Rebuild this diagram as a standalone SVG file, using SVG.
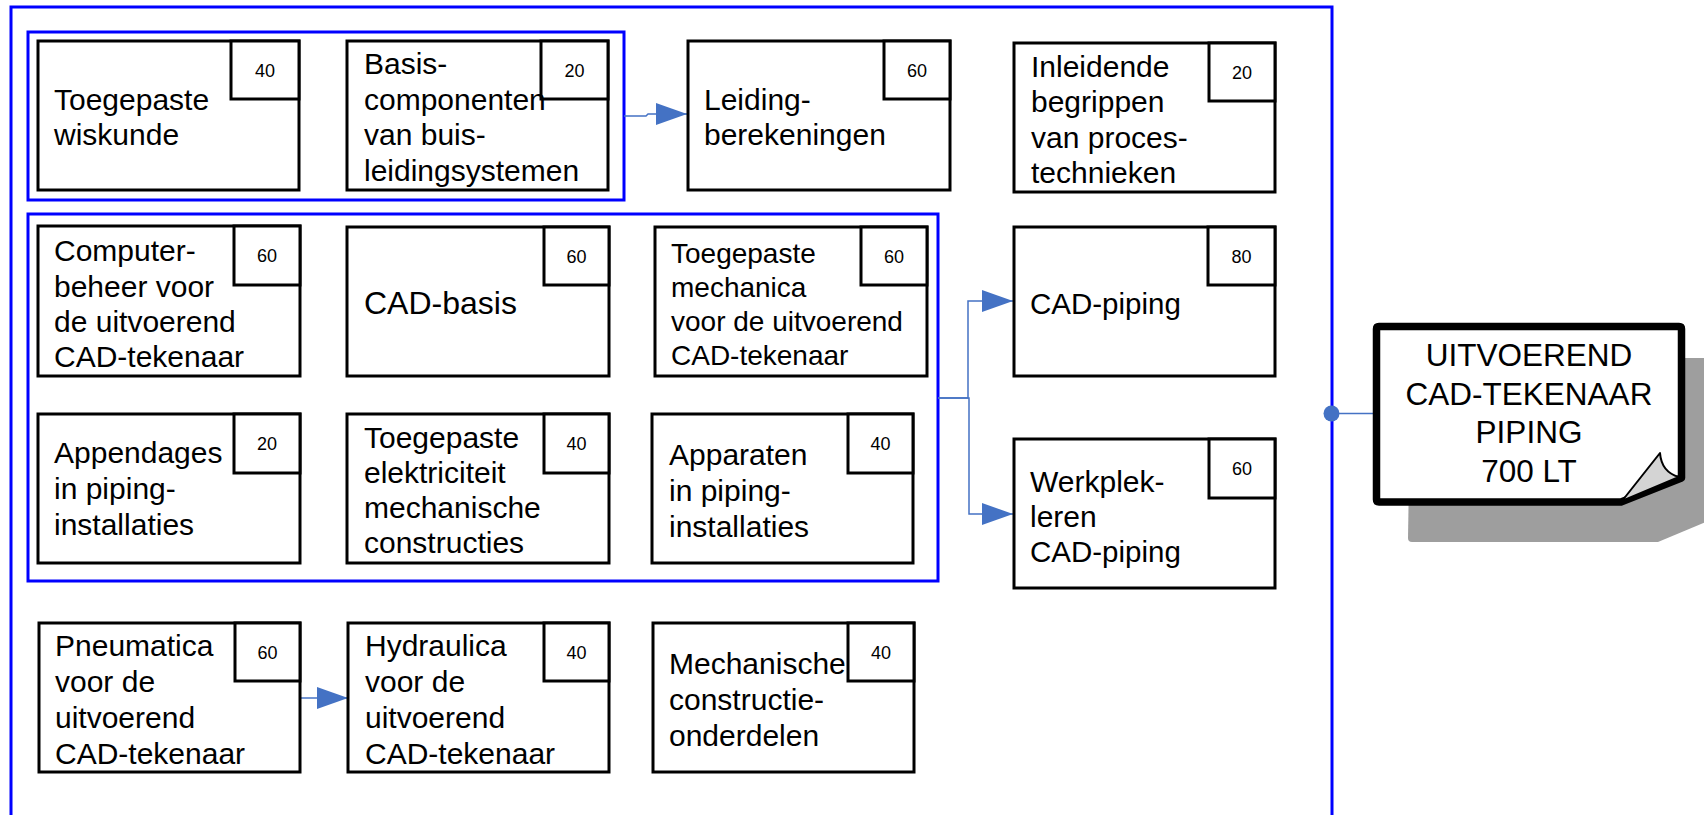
<svg xmlns="http://www.w3.org/2000/svg" width="1704" height="815" viewBox="0 0 1704 815">
<style>
.frame{fill:none;stroke:#0000ff;stroke-width:3}
.box{fill:#ffffff;stroke:#000000;stroke-width:3}
.badge{fill:#ffffff;stroke:#000000;stroke-width:3}
.t{font-family:"Liberation Sans",Arial,sans-serif;font-size:30px;fill:#000000}
.ts{font-family:"Liberation Sans",Arial,sans-serif;font-size:28px;fill:#000000}
.n{font-family:"Liberation Sans",Arial,sans-serif;font-size:18px;fill:#000000;text-anchor:middle}
.doc{font-family:"Liberation Sans",Arial,sans-serif;font-size:31.5px;fill:#000000;text-anchor:middle}
.c{fill:none;stroke:#4472c4;stroke-width:1.5}
</style>
<defs>
<marker id="ah" markerUnits="userSpaceOnUse" markerWidth="32" markerHeight="22" refX="31" refY="11" orient="auto">
<path d="M0,0 L31,11 L0,22 Z" fill="#4472c4"/>
</marker>
</defs>
<rect width="1704" height="815" fill="#ffffff"/>

<g id="frames">
<rect class="frame" x="11" y="7" width="1321" height="830"/>
<rect class="frame" x="28" y="32" width="596" height="168"/>
<rect class="frame" x="28" y="214" width="910" height="367"/>
</g>

<g id="connectors">
<path class="c" d="M624,116 H646 L648,114 H687" marker-end="url(#ah)"/>
<path class="c" d="M938,398 H968 V301 H1013" marker-end="url(#ah)"/>
<path class="c" d="M938,398 H969 V514 H1013" marker-end="url(#ah)"/>
<path class="c" d="M300,698 H348" marker-end="url(#ah)"/>
<path class="c" d="M1332,413.5 H1373"/>
<circle cx="1331.5" cy="413.5" r="8" fill="#4472c4"/>
</g>

<g id="n1">
<rect class="box" x="38" y="41" width="261" height="149"/>
<rect class="badge" x="231" y="41" width="68" height="58"/>
<text class="n" x="265" y="76.5">40</text>
<text class="t" x="54" y="110">Toegepaste</text>
<text class="t" x="54" y="145">wiskunde</text>
</g>

<g id="n2">
<rect class="box" x="347" y="41" width="261" height="149"/>
<rect class="badge" x="541" y="41" width="67" height="58"/>
<text class="n" x="574.5" y="76.5">20</text>
<text class="t" x="364" y="74">Basis-</text>
<text class="t" x="364" y="109.5">componenten</text>
<text class="t" x="364" y="145">van buis-</text>
<text class="t" x="364" y="180.5">leidingsystemen</text>
</g>

<g id="n3">
<rect class="box" x="688" y="41" width="262" height="149"/>
<rect class="badge" x="884" y="41" width="66" height="58"/>
<text class="n" x="917" y="76.5">60</text>
<text class="t" x="704" y="110">Leiding-</text>
<text class="t" x="704" y="145">berekeningen</text>
</g>

<g id="n4">
<rect class="box" x="1014" y="43" width="261" height="149"/>
<rect class="badge" x="1209" y="43" width="66" height="58"/>
<text class="n" x="1242" y="78.5">20</text>
<text class="t" x="1031" y="76.5">Inleidende</text>
<text class="t" x="1031" y="112">begrippen</text>
<text class="t" x="1031" y="147.5">van proces-</text>
<text class="t" x="1031" y="183">technieken</text>
</g>

<g id="n5">
<rect class="box" x="38" y="226" width="262" height="150"/>
<rect class="badge" x="234" y="226" width="66" height="59"/>
<text class="n" x="267" y="262">60</text>
<text class="t" x="54" y="261">Computer-</text>
<text class="t" x="54" y="296.5">beheer voor</text>
<text class="t" x="54" y="332">de uitvoerend</text>
<text class="t" x="54" y="367">CAD-tekenaar</text>
</g>

<g id="n6">
<rect class="box" x="347" y="227" width="262" height="149"/>
<rect class="badge" x="544" y="227" width="65" height="58"/>
<text class="n" x="576.5" y="262.5">60</text>
<text class="t" x="364" y="314" style="font-size:32px">CAD-basis</text>
</g>

<g id="n7">
<rect class="box" x="655" y="227" width="272" height="149"/>
<rect class="badge" x="861" y="227" width="66" height="58"/>
<text class="n" x="894" y="262.5">60</text>
<text class="ts" x="671" y="263">Toegepaste</text>
<text class="ts" x="671" y="297">mechanica</text>
<text class="ts" x="671" y="331">voor de uitvoerend</text>
<text class="ts" x="671" y="365">CAD-tekenaar</text>
</g>

<g id="n8">
<rect class="box" x="38" y="414" width="262" height="149"/>
<rect class="badge" x="234" y="414" width="66" height="59"/>
<text class="n" x="267" y="450">20</text>
<text class="t" x="54" y="463">Appendages</text>
<text class="t" x="54" y="498.5">in piping-</text>
<text class="t" x="54" y="534.5">installaties</text>
</g>

<g id="n9">
<rect class="box" x="347" y="414" width="262" height="149"/>
<rect class="badge" x="544" y="414" width="65" height="59"/>
<text class="n" x="576.5" y="450">40</text>
<text class="t" x="364" y="448">Toegepaste</text>
<text class="t" x="364" y="483">elektriciteit</text>
<text class="t" x="364" y="518">mechanische</text>
<text class="t" x="364" y="553">constructies</text>
</g>

<g id="n10">
<rect class="box" x="652" y="414" width="261" height="149"/>
<rect class="badge" x="848" y="414" width="65" height="59"/>
<text class="n" x="880.5" y="450">40</text>
<text class="t" x="669" y="465">Apparaten</text>
<text class="t" x="669" y="500.5">in piping-</text>
<text class="t" x="669" y="536.5">installaties</text>
</g>

<g id="n11">
<rect class="box" x="1014" y="227" width="261" height="149"/>
<rect class="badge" x="1208" y="227" width="67" height="58"/>
<text class="n" x="1241.5" y="262.5">80</text>
<text class="t" x="1030" y="313.5" style="font-size:29.5px">CAD-piping</text>
</g>

<g id="n12">
<rect class="box" x="1014" y="439" width="261" height="149"/>
<rect class="badge" x="1209" y="439" width="66" height="59"/>
<text class="n" x="1242" y="475">60</text>
<text class="t" x="1030" y="491.5">Werkplek-</text>
<text class="t" x="1030" y="526.5">leren</text>
<text class="t" x="1030" y="562" style="font-size:29.5px">CAD-piping</text>
</g>

<g id="n13">
<rect class="box" x="39" y="623" width="261" height="149"/>
<rect class="badge" x="235" y="623" width="65" height="58"/>
<text class="n" x="267.5" y="659">60</text>
<text class="t" x="55" y="656">Pneumatica</text>
<text class="t" x="55" y="692">voor de</text>
<text class="t" x="55" y="728">uitvoerend</text>
<text class="t" x="55" y="763.5">CAD-tekenaar</text>
</g>

<g id="n14">
<rect class="box" x="348" y="623" width="261" height="149"/>
<rect class="badge" x="544" y="623" width="65" height="58"/>
<text class="n" x="576.5" y="659">40</text>
<text class="t" x="365" y="656">Hydraulica</text>
<text class="t" x="365" y="692">voor de</text>
<text class="t" x="365" y="728">uitvoerend</text>
<text class="t" x="365" y="763.5">CAD-tekenaar</text>
</g>

<g id="n15">
<rect class="box" x="653" y="623" width="261" height="149"/>
<rect class="badge" x="848" y="623" width="66" height="58"/>
<text class="n" x="881" y="658.5">40</text>
<text class="t" x="669" y="674">Mechanische</text>
<text class="t" x="669" y="710">constructie-</text>
<text class="t" x="669" y="746">onderdelen</text>
</g>

<g id="outcome">
<path d="M1411,358 H1725 V514 L1658,542 H1412 Q1408,542 1408,538 Z" fill="#9e9e9e"/>
<path d="M1379,326.5 H1679 Q1681.5,326.5 1681.5,329 V478 L1621,502 H1379 Q1376.5,502 1376.5,499.5 V329 Q1376.5,326.5 1379,326.5 Z" fill="#ffffff" stroke="#000000" stroke-width="7.5" stroke-linejoin="round"/>
<path d="M1622,501 L1660,453 C1661,466 1668,474 1679,477 Z" fill="#d4d4d4" stroke="#000000" stroke-width="2" stroke-linejoin="round"/>
<text class="doc" x="1529" y="366">UITVOEREND</text>
<text class="doc" x="1529" y="405">CAD-TEKENAAR</text>
<text class="doc" x="1529" y="443">PIPING</text>
<text class="doc" x="1529" y="482">700 LT</text>
</g>
</svg>
